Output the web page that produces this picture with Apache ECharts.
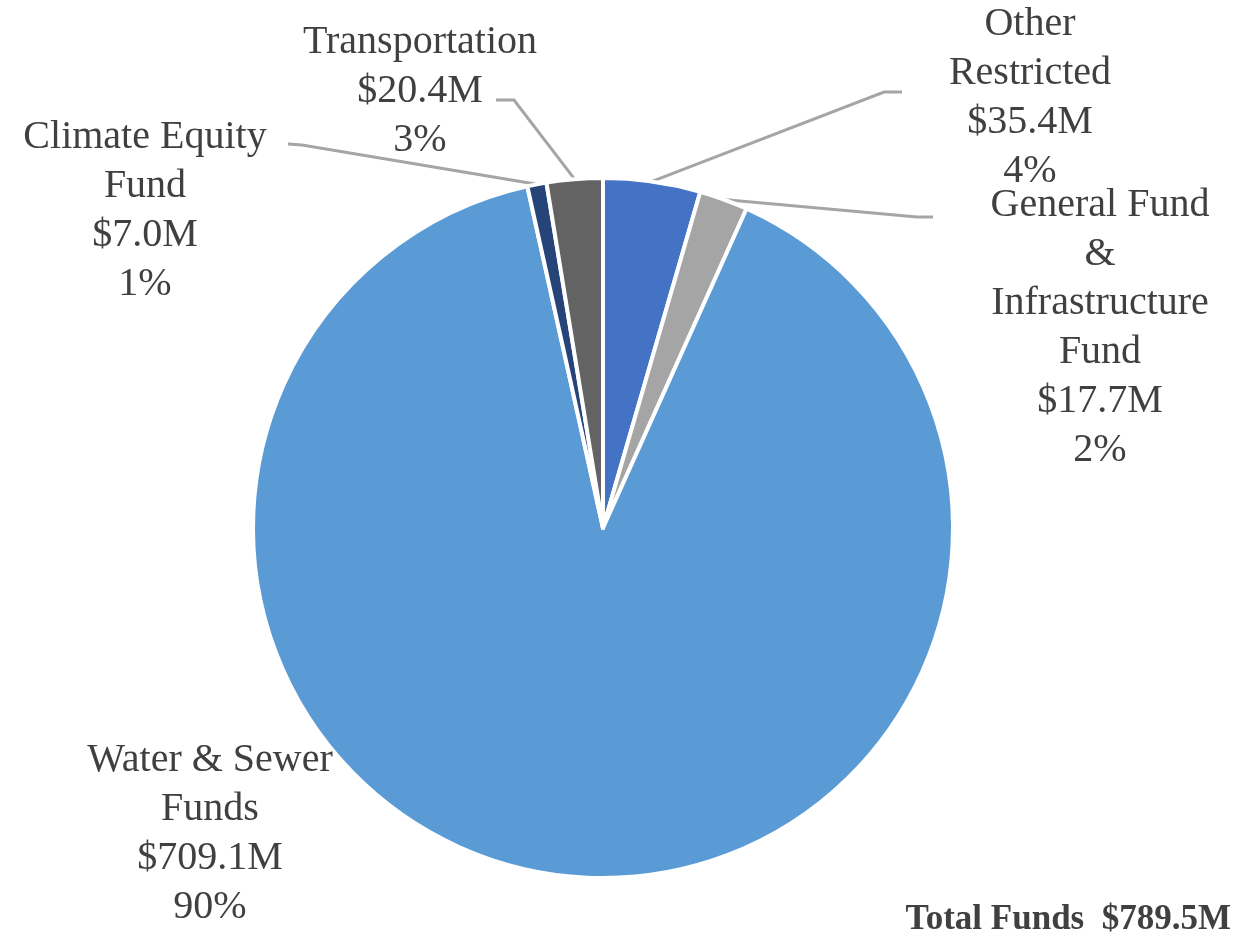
<!DOCTYPE html>
<html>
<head>
<meta charset="utf-8">
<style>
  html, body { margin: 0; padding: 0; background: #fff; }
  #chart { width: 1240px; height: 935px; }
</style>
<script src="https://cdn.jsdelivr.net/npm/echarts@6/dist/echarts.min.js"></script>
</head>
<body>
<div id="chart"></div>
<script>
// fund names (line breaks as shown on the chart)
var funds = ['Other\nRestricted', 'General Fund\n&\nInfrastructure\nFund', 'Water & Sewer\nFunds', 'Climate Equity\nFund', 'Transportation']
// amounts in $M
var amounts = [35.4, 17.7, 709.1, 7.0, 20.4]
var colors = ['#4472C4', '#A5A5A5', '#5B9BD5', '#264478', '#636363']
var totalText = 'Total Funds  $789.5M'

// layout: pie centre/radius, label centres, leader line bend + end
var pieCenter = [603, 528]
var pieRadius = 350
var labelPos = [[1030, 98], [1100, 328], [210, 834], [145, 211], [420, 91]]
var leaderPts = [
  [[884, 92], [902, 92]],
  [[917, 217], [933, 217]],
  null,
  [[302, 145], [288, 144]],
  [[514, 100], [496, 100]]
]

var total = amounts.reduce(function (a, b) { return a + b }, 0)

// outer edge point at the middle of slice i (clockwise from 12 o'clock)
function sliceAnchor(i) {
  var before = 0
  for (var k = 0; k < i; k++) before += amounts[k]
  var ang = (before + amounts[i] / 2) / total * Math.PI * 2
  return [pieCenter[0] + pieRadius * Math.sin(ang), pieCenter[1] - pieRadius * Math.cos(ang)]
}

var chart = echarts.init(document.getElementById('chart'))

var pieData = funds.map(function (n, i) {
  var item = { name: n, value: amounts[i], itemStyle: { color: colors[i] } }
  if (i === 2) item.labelLine = { show: false }
  return item
})

chart.setOption({
  animation: false,
  title: {
    text: totalText,
    right: 4,
    top: 897,
    textStyle: {
      fontFamily: 'Liberation Serif',
      fontWeight: 'bold',
      fontSize: 35,
      color: '#404040'
    }
  },
  series: [{
    type: 'pie',
    center: pieCenter,
    radius: [0, pieRadius],
    startAngle: 90,
    clockwise: true,
    avoidLabelOverlap: false,
    itemStyle: {
      borderColor: '#fff',
      borderWidth: 4
    },
    label: {
      show: true,
      position: 'outside',
      fontFamily: 'Liberation Serif',
      fontSize: 40,
      lineHeight: 49,
      color: '#404040',
      align: 'center',
      formatter: function (p) {
        return p.name + '\n$' + p.value.toFixed(1) + 'M\n' + Math.round(p.percent) + '%'
      }
    },
    labelLine: {
      show: true,
      length: 10,
      length2: 10,
      lineStyle: { color: '#A5A5A5', width: 3 }
    },
    labelLayout: function (p) {
      var i = p.dataIndex
      var pos = labelPos[i]
      var out = {
        x: pos[0],
        y: pos[1],
        align: 'center',
        verticalAlign: 'middle',
        hideOverlap: false
      }
      if (leaderPts[i]) {
        out.labelLinePoints = [sliceAnchor(i), leaderPts[i][0], leaderPts[i][1]]
      }
      return out
    },
    data: pieData
  }]
})
</script>
</body>
</html>
